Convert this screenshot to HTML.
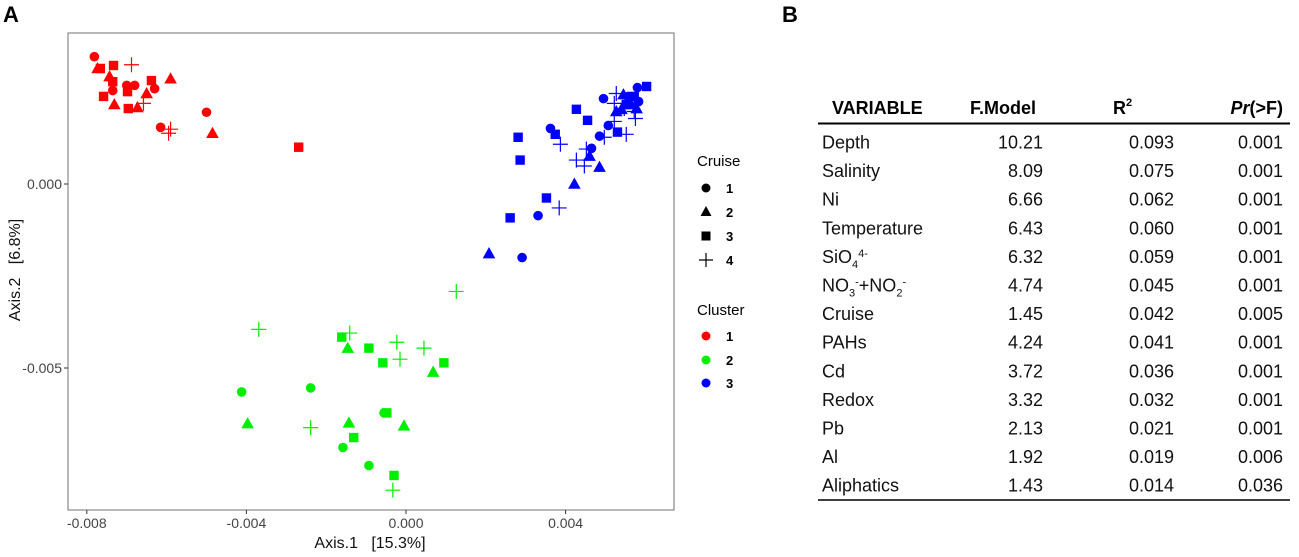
<!DOCTYPE html>
<html><head><meta charset="utf-8">
<style>
body{margin:0;background:#fff;width:1299px;height:552px;overflow:hidden;font-family:"Liberation Sans",Arial,sans-serif}
svg text{font-family:"Liberation Sans",Arial,sans-serif;white-space:pre}
</style></head>
<body>
<svg id="chart" width="1299" height="552" viewBox="0 0 1299 552">
<text x="3" y="22" font-size="22" font-weight="bold">A</text>
<text x="782" y="22" font-size="22" font-weight="bold">B</text>
<rect x="68" y="33" width="606" height="477" fill="#fff" stroke="#888" stroke-width="1.2"/>
<g id="marks"></g>
<g id="axes"></g>
<text x="370" y="548" font-size="16" text-anchor="middle" fill="#111">Axis.1   [15.3%]</text>
<text transform="translate(20,270) rotate(-90)" font-size="16" text-anchor="middle" fill="#111">Axis.2   [6.8%]</text>
<g font-size="15">
<text x="697" y="166">Cruise</text>
<circle cx="706" cy="188" r="4.5" fill="#000"/>
<text x="726" y="193" font-size="13" font-weight="bold">1</text>
<polygon points="706,206 711.5,216 700.5,216" fill="#000"/>
<text x="726" y="217" font-size="13" font-weight="bold">2</text>
<rect x="701.5" y="231.5" width="9" height="9" fill="#000"/>
<text x="726" y="241" font-size="13" font-weight="bold">3</text>
<path d="M699 260H713M706 253V267" stroke="#000" stroke-width="1.2"/>
<text x="726" y="265" font-size="13" font-weight="bold">4</text>
<text x="697" y="315">Cluster</text>
<circle cx="706" cy="336" r="4.5" fill="#ff0000"/>
<text x="726" y="341" font-size="13" font-weight="bold">1</text>
<circle cx="706" cy="360" r="4.5" fill="#00ee00"/>
<text x="726" y="365" font-size="13" font-weight="bold">2</text>
<circle cx="706" cy="383" r="4.5" fill="#0000ff"/>
<text x="726" y="388" font-size="13" font-weight="bold">3</text>
</g>
<g id="table" font-size="18"></g>
</svg>
<script>
// data in units of 1e-3
const redX=[-7.81,-7.73,-7.66,-7.33,-6.88,-7.43,-7.35,-7.00,-6.80,-6.38,-5.90,-6.98,-7.35,-7.58,-6.30,-6.50,-7.31,-6.96,-6.73,-6.58,-5.00,-6.15,-5.90,-5.95,-4.85,-2.69];
const redY=[3.46,3.14,3.14,3.22,3.24,2.92,2.78,2.68,2.68,2.81,2.86,2.51,2.54,2.38,2.59,2.46,2.16,2.05,2.08,2.19,1.95,1.54,1.49,1.38,1.38,1.00];
const redShape=["c","t","s","s","p","t","s","c","c","s","t","s","c","s","c","t","t","s","t","p","c","c","p","p","t","s"];
const blueX=[6.03,5.80,5.45,5.27,4.95,5.22,5.27,4.27,4.55,5.07,5.22,5.75,5.30,5.52,3.62,3.74,3.87,4.85,4.97,2.81,4.65,4.52,4.60,4.27,4.47,4.85,2.86,4.22,3.52,3.84,3.31,2.61,2.08,2.91,5.57,5.65,5.78,5.72,5.52,5.83,5.72,5.40,5.47,5.57];
const blueY=[2.65,2.62,2.43,2.46,2.32,2.19,1.97,2.03,1.73,1.59,1.70,1.78,1.41,1.35,1.51,1.35,1.08,1.30,1.27,1.27,0.97,0.95,0.76,0.65,0.49,0.46,0.65,0.00,-0.38,-0.65,-0.86,-0.92,-1.89,-2.00,2.30,2.16,2.05,2.38,2.16,2.24,1.97,2.03,2.05,2.38];
const blueShape=["s","c","t","p","c","p","t","s","s","c","p","p","s","p","c","s","p","c","p","s","c","p","t","p","p","t","s","t","s","p","c","s","t","c","t","t","t","s","s","c","p","t","p","c"];
const greenX=[1.26,-3.69,-1.61,-1.41,-1.46,-0.93,-0.23,-0.15,-0.58,0.45,0.95,0.68,-4.12,-2.39,-0.55,-0.48,-3.97,-2.39,-1.43,-1.31,-0.05,-1.58,-0.93,-0.30,-0.33];
const greenY=[-2.92,-3.95,-4.16,-4.05,-4.46,-4.46,-4.30,-4.76,-4.86,-4.46,-4.86,-5.11,-5.65,-5.54,-6.22,-6.22,-6.51,-6.62,-6.49,-6.89,-6.57,-7.16,-7.65,-7.92,-8.32];
const greenShape=["p","p","s","p","t","s","p","p","s","p","s","t","c","c","c","s","t","p","t","s","t","c","c","s","p"];
const xTicks=[-8,-4,0,4];
const xTickLabels=["-0.008","-0.004","0.000","0.004"];
const yTicks=[0,-5];
const yTickLabels=["0.000","-0.005"];
const tblVar=["Depth","Salinity","Ni","Temperature","SiO<tspan font-size='11' dy='5'>4</tspan><tspan font-size='11' dy='-11'>4-</tspan>","NO<tspan font-size='11' dy='5'>3</tspan><tspan font-size='11' dy='-11'>-</tspan><tspan dy='6'>+NO</tspan><tspan font-size='11' dy='5'>2</tspan><tspan font-size='11' dy='-11'>-</tspan>","Cruise","PAHs","Cd","Redox","Pb","Al","Aliphatics"];
const tblF=["10.21","8.09","6.66","6.43","6.32","4.74","1.45","4.24","3.72","3.32","2.13","1.92","1.43"];
const tblR2=["0.093","0.075","0.062","0.060","0.059","0.045","0.042","0.041","0.036","0.032","0.021","0.019","0.014"];
const tblP=["0.001","0.001","0.001","0.001","0.001","0.001","0.005","0.001","0.001","0.001","0.001","0.006","0.036"];

const NS="http://www.w3.org/2000/svg";
const sx=v=>406+v*39.9;
const sy=v=>184-v*36.8;
const marks=document.getElementById('marks');
function mk(tag,attrs){const e=document.createElementNS(NS,tag);for(const k in attrs)e.setAttribute(k,attrs[k]);return e;}
function drawSeries(X,Y,S,col,name){
  for(let i=0;i<X.length;i++){
    const x=sx(X[i]),y=sy(Y[i]);let e;
    if(S[i]==="c")e=mk('circle',{cx:x,cy:y,r:4.8,fill:col});
    else if(S[i]==="t")e=mk('polygon',{points:`${x},${y-6.5} ${x+6.3},${y+4.8} ${x-6.3},${y+4.8}`,fill:col});
    else if(S[i]==="s")e=mk('rect',{x:x-4.7,y:y-4.7,width:9.4,height:9.4,fill:col});
    else e=mk('path',{d:`M${x-7.5} ${y}H${x+7.5}M${x} ${y-7.5}V${y+7.5}`,stroke:col,'stroke-width':1.2,fill:'none'});
    
    
    marks.appendChild(e);
  }
}
drawSeries(redX,redY,redShape,'#ff0000','cluster-1');
drawSeries(greenX,greenY,greenShape,'#00ee00','cluster-2');
drawSeries(blueX,blueY,blueShape,'#0000ff','cluster-3');

const axes=document.getElementById('axes');
xTicks.forEach((t,i)=>{
  const x=sx(t);
  const l=mk('line',{x1:x,x2:x,y1:510,y2:514,stroke:'#333'});
  
  
  axes.appendChild(l);
  const tx=mk('text',{x:x,y:528,'font-size':14,'text-anchor':'middle',fill:'#444'});
  tx.textContent=xTickLabels[i];
  
  
  axes.appendChild(tx);
});
yTicks.forEach((t,i)=>{
  const y=sy(t);
  const l=mk('line',{x1:64,x2:68,y1:y,y2:y,stroke:'#333'});
  
  
  axes.appendChild(l);
  const tx=mk('text',{x:62,y:y+5,'font-size':14,'text-anchor':'end',fill:'#444'});
  tx.textContent=yTickLabels[i];
  
  
  axes.appendChild(tx);
});

const tbl=document.getElementById('table');
let h='';
h+='<text x="832" y="114" font-weight="bold">VARIABLE</text>';
h+='<text x="970" y="114" font-weight="bold">F.Model</text>';
h+='<text x="1113" y="114" font-weight="bold">R<tspan font-size="11" dy="-8">2</tspan></text>';
h+='<text x="1283" y="114" font-weight="bold" text-anchor="end"><tspan font-style="italic">Pr</tspan>(&gt;F)</text>';
h+='<line x1="818" x2="1290" y1="123.5" y2="123.5" stroke="#000" stroke-width="2"/>';
tbl.innerHTML=h;
tblVar.forEach((v,i)=>{
  const y=148.5+i*28.6;
  const row=[[822,v,'start'],[1043,tblF[i],'end'],[1174,tblR2[i],'end'],[1283,tblP[i],'end']];
  row.forEach((c,j)=>{
    const t=mk('text',{x:c[0],y:y,'text-anchor':c[2],fill:'#111'});
    t.innerHTML=c[1];
    
    
    tbl.appendChild(t);
  });
});
const bl=mk('line',{x1:818,x2:1290,y1:500,y2:500,stroke:'#000','stroke-width':1.5});


tbl.appendChild(bl);
</script>
</body></html>
